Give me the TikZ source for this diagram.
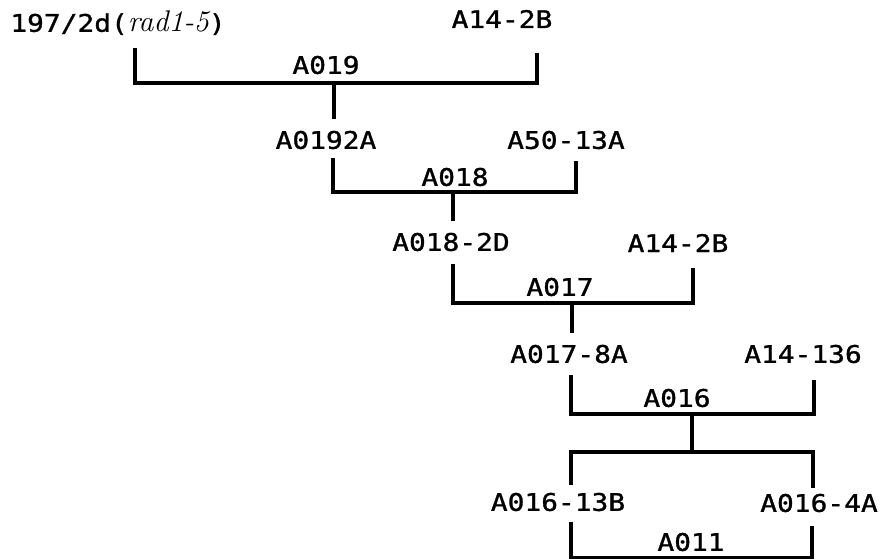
\documentclass[tikz,border=0pt]{standalone}
\usepackage{fontspec}
\setmonofont[FakeStretch=1.15, FakeBold=1.2]{DejaVu Sans Mono}

\tikzset{
  strain/.style={font=\ttfamily\fontsize{13.8}{16}\selectfont, inner sep=0pt},
  cross/.style={strain},
  bar/.style={line width=2pt, line cap=rect, line join=miter},
}

\begin{document}
\begin{tikzpicture}[x=0.02cm, y=-0.02cm]
    \useasboundingbox (0,0) rectangle (882,558);

    % Stamme
    \node[strain, anchor=west] (s197) at (10,23) {197/2d({\rmfamily\itshape\fontsize{17}{19}\selectfont rad1-5})};
    \node[strain] (s142b) at (502,19) {A14-2B};
    \node[strain] (s0192a) at (326,140) {A0192A};
    \node[strain] (s5013a) at (566,140) {A50-13A};
    \node[strain] (s0182d) at (451,242) {A018-2D};
    \node[strain] (s142bb) at (678,243) {A14-2B};
    \node[strain] (s0178a) at (569,354) {A017-8A};
    \node[strain] (s14136) at (803,354) {A14-136};
    \node[strain] (s01613b) at (558,502) {A016-13B};
    \node[strain] (s0164a) at (819,503) {A016-4A};

    % Kreuzungen
    \node[cross] (c019) at (326,65) {A019};
    \node[cross] (c018) at (455,177) {A018};
    \node[cross] (c017) at (560,287) {A017};
    \node[cross] (c016) at (677,398) {A016};
    \node[cross] (c011) at (691,542) {A011};

    % Klammerpunkte
    \coordinate (l1) at (135,50);  \coordinate (r1) at (537,55);  \coordinate (j1) at (334,83);
    \coordinate (l2) at (333,160); \coordinate (r2) at (576,163); \coordinate (j2) at (453,192);
    \coordinate (l3) at (453,266); \coordinate (r3) at (693,270); \coordinate (j3) at (572,303);
    \coordinate (l4) at (571,377); \coordinate (r4) at (814,382); \coordinate (j4) at (692,414);
    \coordinate (k4) at (692,452); \coordinate (d4l) at (571,483); \coordinate (d4r) at (813,486);
    \coordinate (l5) at (571,524); \coordinate (r5) at (812,528); \coordinate (j5) at (692,558);

    % A019
    \draw[bar] (l1) |- (j1) -| (r1);
    \draw[bar, shorten >=0.26cm] (j1) -- (j1 |- s0192a.north);
    % A018
    \draw[bar] (l2) |- (j2) -| (r2);
    \draw[bar, shorten >=0.26cm] (j2) -- (j2 |- s0182d.north);
    % A017
    \draw[bar] (l3) |- (j3) -| (r3);
    \draw[bar, shorten >=0.26cm] (j3) -- (j3 |- s0178a.north);
    % A016
    \draw[bar] (l4) |- (j4) -| (r4);
    \draw[bar] (j4) -- (k4);
    \draw[bar] (d4l) |- (k4) -| (d4r);
    % A011
    \draw[bar] (l5) |- (j5) -| (r5);
\end{tikzpicture}
\end{document}
